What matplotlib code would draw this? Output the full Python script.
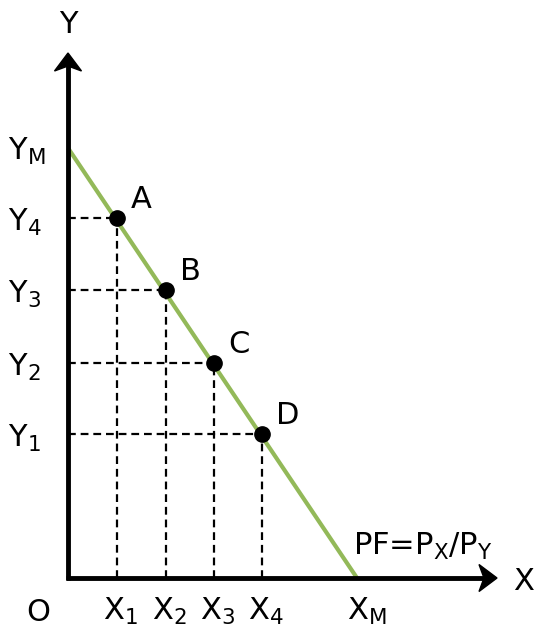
import matplotlib.pyplot as plt
from matplotlib.patches import Polygon

# budget line intercepts (pixel-like units, origin at O)
y_max = 430
x_max = 289

# points on the line
pt_names = ['A', 'B', 'C', 'D']
pt_x = [49, 98, 146, 194]
pt_y = [360, 288, 215, 144]

x_ticks = ['$\\mathregular{X_1}$', '$\\mathregular{X_2}$', '$\\mathregular{X_3}$', '$\\mathregular{X_4}$']
y_ticks = ['$\\mathregular{Y_4}$', '$\\mathregular{Y_3}$', '$\\mathregular{Y_2}$', '$\\mathregular{Y_1}$']

green = '#93B959'
fs = 22

fig = plt.figure(figsize=(5.4, 6.3), dpi=100)
ax = fig.add_axes([0, 0, 1, 1])
ax.set_xlim(-68, 472)
ax.set_ylim(-52, 578)
ax.axis('off')

# axes with arrow heads (stealth shape)
ax.plot([0, 0], [-2, 515], color='black', lw=3.5, solid_capstyle='butt', zorder=5)
ax.plot([-2, 417], [0, 0], color='black', lw=3.5, solid_capstyle='butt', zorder=5)
ax.add_patch(Polygon([(0, 525), (-13.5, 507), (0, 512), (13.5, 507)],
                     closed=True, color='black', zorder=6))
ax.add_patch(Polygon([(429, 0), (411, 13.5), (416, 0), (411, -13.5)],
                     closed=True, color='black', zorder=6))

# dashed guide lines
for xv, yv in zip(pt_x, pt_y):
    ax.plot([0, xv], [yv, yv], ls=(0, (3.5, 2.2)), color='black', lw=1.6, zorder=2)
    ax.plot([xv, xv], [0, yv], ls=(0, (3.5, 2.2)), color='black', lw=1.6, zorder=2)

# budget line
ax.plot([0, x_max], [y_max, 0], color=green, lw=3, zorder=3, solid_capstyle='butt')

# points
ax.plot(pt_x, pt_y, 'o', color='black', ms=11, zorder=4)
for name, xv, yv in zip(pt_names, pt_x, pt_y):
    ax.text(xv + 14, yv + 10, name, fontsize=fs, ha='left', va='baseline')

# tick labels
for lab, xv in zip(x_ticks, pt_x):
    ax.text(xv - 14, -42, lab, fontsize=fs, ha='left', va='baseline')
ax.text(x_max - 10, -42, '$\\mathregular{X_M}$', fontsize=fs, ha='left', va='baseline')
for lab, yv in zip(y_ticks, pt_y):
    ax.text(-60, yv - 13, lab, fontsize=fs, ha='left', va='baseline')
ax.text(-60, y_max - 12, '$\\mathregular{Y_M}$', fontsize=fs, ha='left', va='baseline')

ax.text(-30, -43, 'O', fontsize=fs, ha='center', va='baseline')
ax.text(0, 545, 'Y', fontsize=fs, ha='center', va='baseline')
ax.text(445, -12, 'X', fontsize=fs, ha='left', va='baseline')
ax.text(285, 23, 'PF=P$_\\mathregular{X}$/P$_\\mathregular{Y}$', fontsize=fs,
        ha='left', va='baseline')

fig.savefig('out.png', dpi=100)
